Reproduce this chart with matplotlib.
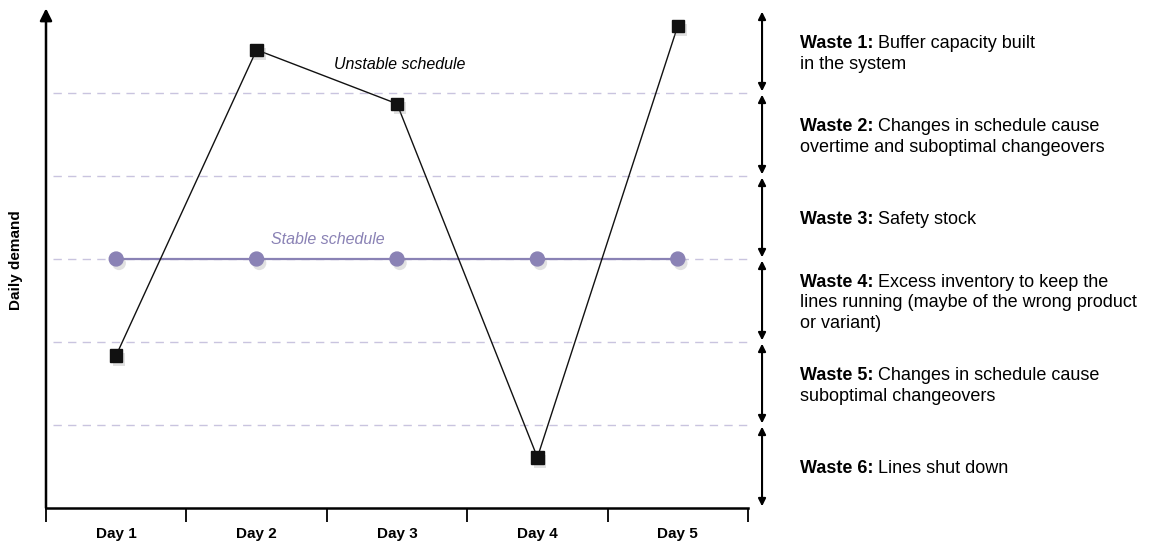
import matplotlib
matplotlib.use("Agg")
import matplotlib.pyplot as plt
import matplotlib.patheffects as pe

plt.rcParams["font.family"] = ["Liberation Sans Narrow", "Liberation Sans", "DejaVu Sans"]

# ── data ────────────────────────────────────────────────────────────────
days = ["Day 1", "Day 2", "Day 3", "Day 4", "Day 5"]
unstable = [1.84, 5.52, 4.87, 0.61, 5.81]
stable = [3, 3, 3, 3, 3]
levels = [1, 2, 3, 4, 5]
waste_titles = ["Waste 1:", "Waste 2:", "Waste 3:", "Waste 4:", "Waste 5:", "Waste 6:"]
waste_texts = [
    ["Buffer capacity built", "in the system"],
    ["Changes in schedule cause", "overtime and suboptimal changeovers"],
    ["Safety stock"],
    ["Excess inventory to keep the", "lines running (maybe of the wrong product", "or variant)"],
    ["Changes in schedule cause", "suboptimal changeovers"],
    ["Lines shut down"],
]
bands = [(5, 6), (4, 5), (3, 4), (2, 3), (1, 2), (0, 1)]

PURPLE = "#8a82b5"
DASH = "#c9c4df"

fig = plt.figure(figsize=(11.64, 5.47), dpi=100)
ax = fig.add_axes([46 / 1164, 39 / 547, 702 / 1164, 498 / 547])
ax.set_xlim(0, 5)
ax.set_ylim(0, 6)
x = [i + 0.5 for i in range(len(days))]

for s in ["top", "right", "left"]:
    ax.spines[s].set_visible(False)
ax.spines["bottom"].set_linewidth(1.8)

# y axis with arrow
ax.annotate("", xy=(0, 6.02), xytext=(0, 0), xycoords="data",
            arrowprops=dict(arrowstyle="-|>", color="black", lw=1.8,
                            mutation_scale=18, shrinkA=0, shrinkB=0),
            annotation_clip=False)

# x ticks: boundaries, labels centred between
ax.set_xticks(range(6))
ax.set_xticklabels([])
ax.set_xticks(x, minor=True)
ax.set_xticklabels(days, minor=True, fontweight="bold", fontsize=11)
ax.tick_params(axis="x", which="major", direction="out", length=10, width=1.3)
ax.tick_params(axis="x", which="minor", length=0, pad=14)
ax.set_yticks([])

for lv in levels:
    ax.axhline(lv, xmin=0.01, xmax=1.0, color=DASH, lw=1, dashes=(6, 4.5), zorder=1)

shadow = [pe.SimplePatchShadow(offset=(2, -3), shadow_rgbFace="#888888", alpha=0.25), pe.Normal()]
ax.plot(x, stable, color=PURPLE, lw=1.6, zorder=3)
ax.plot(x, stable, ls="none", color=PURPLE, marker="o", markersize=10, zorder=3,
        path_effects=shadow)
ax.plot(x, unstable, color="#111111", lw=1, zorder=4)
ax.plot(x, unstable, ls="none", color="#111111", marker="s", markersize=9, zorder=4,
        path_effects=shadow)

ax.text(2.52, 5.34, "Unstable schedule", style="italic", fontsize=11.5, ha="center", va="center")
ax.text(2.01, 3.23, "Stable schedule", style="italic", fontsize=11.5, color=PURPLE,
        ha="center", va="center")

fig.text(16 / 1164, 1 - 260 / 547, "Daily demand", rotation=90, fontweight="bold",
         fontsize=11, ha="center", va="center")

# right-hand bracket arrows and annotations
ax_x = 5.10
tx = 5.37
line_h = 0.245
for (lo, hi), title, lines in zip(bands, waste_titles, waste_texts):
    ax.annotate("", xy=(ax_x, hi - 0.02), xytext=(ax_x, lo + 0.02),
                arrowprops=dict(arrowstyle="<|-|>", color="black", lw=1.5,
                                mutation_scale=11, shrinkA=0, shrinkB=0),
                annotation_clip=False)
    mid = (lo + hi) / 2 - 0.03
    n = len(lines)
    y0 = mid + (n - 1) * line_h / 2
    t = ax.text(tx, y0, title + " ", fontweight="bold", fontsize=13, va="center",
                ha="left", clip_on=False)
    ax.annotate(lines[0], xy=(1, 0), xycoords=t, va="bottom", ha="left",
                fontsize=13, annotation_clip=False)
    for k, ln in enumerate(lines[1:], start=1):
        ax.text(tx, y0 - k * line_h, ln, fontsize=13, va="center", ha="left", clip_on=False)

fig.savefig("out.png", dpi=100)
